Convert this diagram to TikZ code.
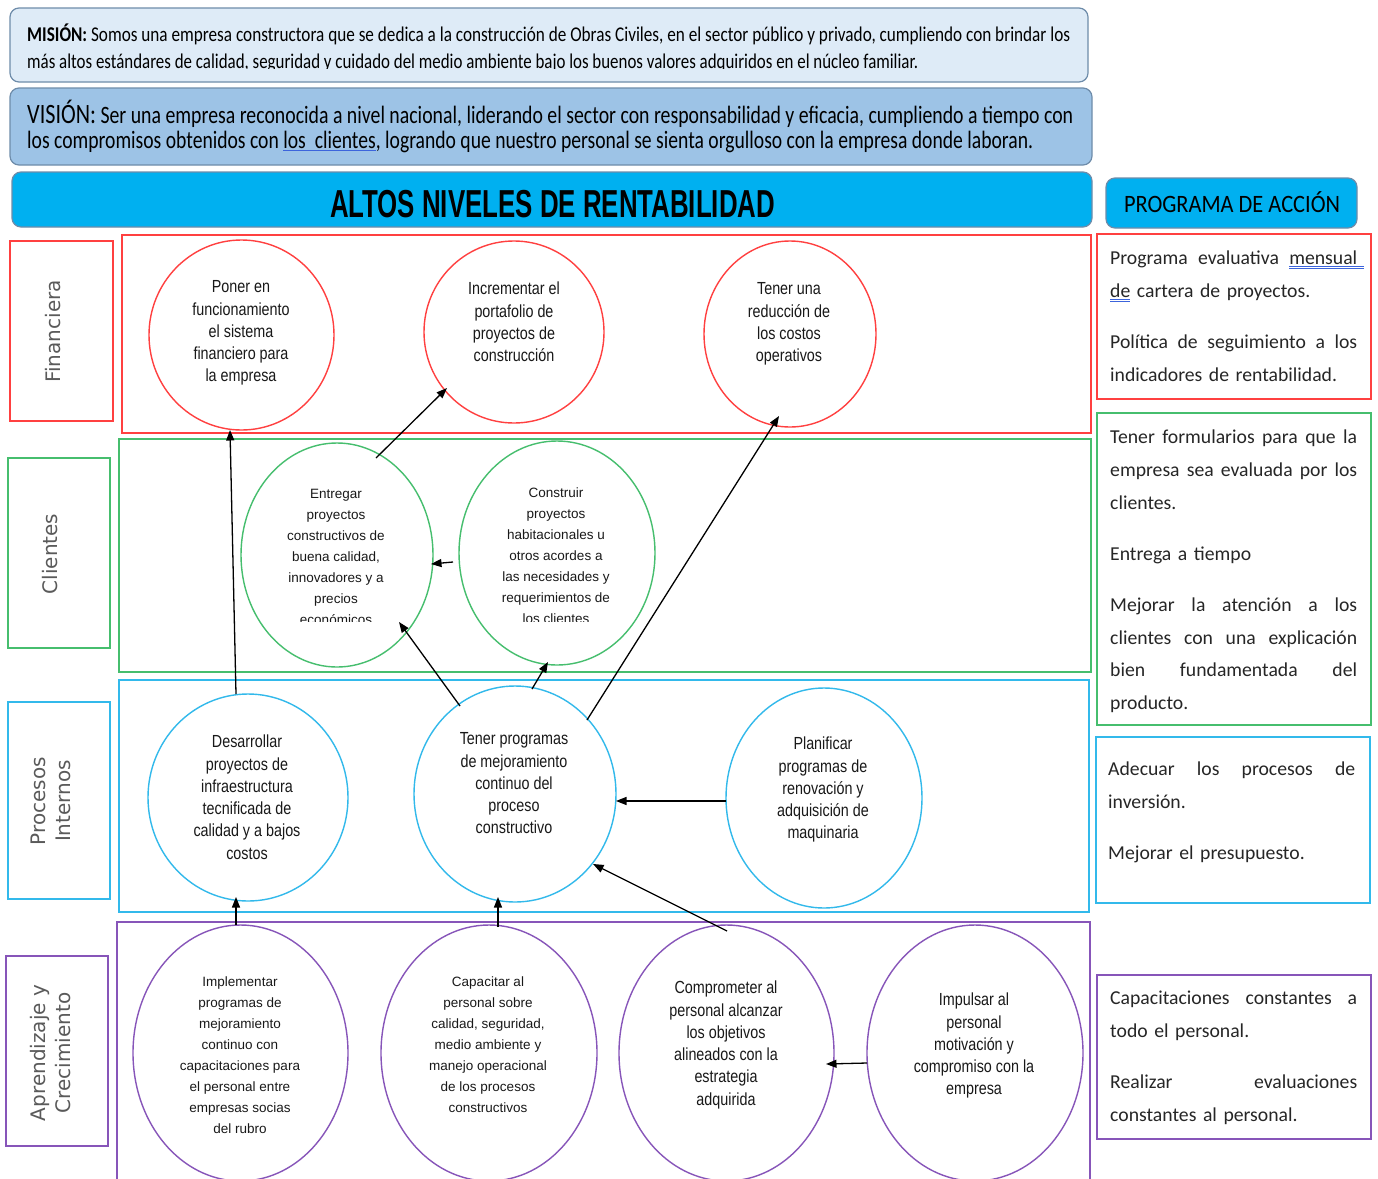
\documentclass[tikz,border=0pt]{standalone}
\usepackage{fontspec}
\usepackage{graphicx}
\usetikzlibrary{shapes.geometric,arrows.meta,calc}
\setmainfont{Liberation Sans}
\newfontfamily\narrowfont[FakeStretch=0.82]{Liberation Sans}
\newfontfamily\calibfont{Carlito}
\newfontfamily\sidefont{DejaVu Sans}

\definecolor{frRed}{RGB}{255,64,64}
\definecolor{frGreen}{RGB}{70,190,110}
\definecolor{frCyan}{RGB}{50,185,235}
\definecolor{frPurple}{RGB}{135,85,185}
\definecolor{misFill}{RGB}{222,235,247}
\definecolor{visFill}{RGB}{157,195,230}
\definecolor{banFill}{RGB}{0,176,240}
\definecolor{banEdge}{RGB}{110,140,170}
\definecolor{ulBlue}{RGB}{60,100,220}
\definecolor{bodyText}{RGB}{38,38,38}
\definecolor{sideText}{RGB}{90,90,90}

% double and single blue underlines
\newcommand\dul[1]{{\color{ulBlue}\underline{\underline{\textcolor{bodyText}{#1}}}}}
\newcommand\sul[1]{{\color{ulBlue}\underline{\textcolor{black}{#1}}}}
% a fully justified line: words separated by \hfill
\newcommand\jline[1]{\leavevmode\hbox to 247pt{#1}}

\tikzset{
  banner/.style={draw=banEdge, line width=1.2pt, rounded corners=9pt, inner sep=0pt},
  goal/.style={ellipse, draw, line width=1.4pt, inner sep=0pt},
  gtext/.style={align=center, anchor=north, inner sep=0pt, text=black!90,
    font=\narrowfont\fontsize{17.5}{22.3}\selectfont},
  gsmall/.style={align=center, anchor=north, inner sep=0pt, text=black!90,
    font=\fontsize{13.5}{21}\selectfont},
  rowframe/.style={draw, line width=1.5pt},
  sidebox/.style={draw, line width=1.8pt},
  sidelabel/.style={rotate=90, align=center, inner sep=0pt, text=sideText,
    font=\sidefont\fontsize{20}{25}\selectfont},
  actbox/.style={draw, line width=1.8pt},
  acttext/.style={anchor=north west, align=left, inner sep=0pt, text width=247pt,
    text=bodyText, font=\calibfont\fontsize{19.7}{32.7}\selectfont},
  link/.style={-{Triangle[length=10.5pt,width=8pt]}, line width=1.3pt, black},
}

\begin{document}
\begin{tikzpicture}[x=1pt, y=-1pt]
\useasboundingbox (0,0) rectangle (1378,1178);
\clip (0,0) rectangle (1378,1178);
\fill[white] (0,0) rectangle (1378,1178);

% ---- mission / vision / headers ----
\node[banner, fill=misFill, minimum width=1078pt, minimum height=74pt] (mision) at (549,45) {};
\node[banner, fill=visFill, minimum width=1082pt, minimum height=77pt] (vision) at (551,126.5) {};
\node[banner, fill=banFill, minimum width=1080pt, minimum height=55pt] (altos) at (552,199.5) {};
\node[banner, fill=banFill, minimum width=251pt, minimum height=50pt] (programa) at (1231.5,203) {};

\node[anchor=base west, inner sep=0pt] (misionA) at (27,41)
  {\resizebox{1043pt}{\height}{\calibfont\fontsize{21}{21}\selectfont\textbf{MISIÓN:} Somos una empresa constructora que se dedica a la construcción de Obras Civiles, en el sector público y privado, cumpliendo con brindar los}};
\begin{scope}
  \clip (12,40) rectangle (1086,68);
  \node[anchor=base west, inner sep=0pt] (misionB) at (27,68)
    {\resizebox{891pt}{\height}{\calibfont\fontsize{21}{21}\selectfont más altos estándares de calidad, seguridad y cuidado del medio ambiente bajo los buenos valores adquiridos en el núcleo familiar.}};
\end{scope}

\node[anchor=base west, inner sep=0pt] (visionA) at (27,123)
  {\resizebox{1046pt}{\height}{\calibfont\fontsize{25}{25}\selectfont{\fontsize{28}{28}\selectfont VISIÓN:} Ser una empresa reconocida a nivel nacional, liderando el sector con responsabilidad y eficacia, cumpliendo a tiempo con}};
\node[anchor=base west, inner sep=0pt] (visionB) at (27,148.5)
  {\resizebox{1006pt}{\height}{\calibfont\fontsize{25}{25}\selectfont los compromisos obtenidos con \sul{los\ \ clientes}, logrando que nuestro personal se sienta orgulloso con la empresa donde laboran.}};

\node[anchor=base, inner sep=0pt] (altosT) at (552.5,217.5)
  {\resizebox{445pt}{\height}{\fontsize{39}{39}\selectfont\bfseries ALTOS NIVELES DE RENTABILIDAD}};
\node[anchor=base, inner sep=0pt] (programaT) at (1232,212.5)
  {\resizebox{216pt}{\height}{\calibfont\fontsize{25}{25}\selectfont PROGRAMA DE ACCIÓN}};

% ---- perspective rows ----
\draw[rowframe, frRed]    (122,235) rectangle (1091,433);
\draw[rowframe, frGreen]  (119,439) rectangle (1091,672);
\draw[rowframe, frCyan]   (119,680) rectangle (1089,912);
\draw[rowframe, frPurple] (117,1190) -- (117,922) -- (1090,922) -- (1090,1190);

% ---- side labels ----
\draw[sidebox, frRed]    (10,241) rectangle (113,421);
\draw[sidebox, frGreen]  (8,458) rectangle (110,648);
\draw[sidebox, frCyan]   (8,702) rectangle (110,899);
\draw[sidebox, frPurple] (6,956) rectangle (108,1146);
\node[sidelabel] (lblFin) at (53,331.5) {Financiera};
\node[sidelabel] (lblCli) at (50.5,554) {Clientes};
\node[sidelabel] (lblPro) at (50.5,801) {Procesos\\Internos};
\node[sidelabel] (lblApr) at (50.5,1053) {Aprendizaje y\\Crecimiento};

% ---- objectives ----
\node[goal, draw=frRed, minimum width=185pt, minimum height=190pt] (F1) at (241.5,335) {};
\node[goal, draw=frRed, minimum width=180pt, minimum height=182pt] (F2) at (514,332) {};
\node[goal, draw=frRed, minimum width=172pt, minimum height=186pt] (F3) at (790,334) {};
\node[goal, draw=frGreen, minimum width=192pt, minimum height=224pt] (C1) at (337,555) {};
\node[goal, draw=frGreen, minimum width=196pt, minimum height=224pt] (C2) at (557,553) {};
\node[goal, draw=frCyan, minimum width=200pt, minimum height=207pt] (P1) at (248,797.5) {};
\node[goal, draw=frCyan, minimum width=202pt, minimum height=216pt] (P2) at (515,794) {};
\node[goal, draw=frCyan, minimum width=196pt, minimum height=220pt] (P3) at (824,798) {};
\node[goal, draw=frPurple, minimum width=215pt, minimum height=256pt] (A1) at (240.5,1053) {};
\node[goal, draw=frPurple, minimum width=216pt, minimum height=256pt] (A2) at (489,1053) {};
\node[goal, draw=frPurple, minimum width=215pt, minimum height=256pt] (A3) at (726.5,1053) {};
\node[goal, draw=frPurple, minimum width=216pt, minimum height=256pt] (A4) at (975,1053) {};

\node[gtext] (F1t) at (241,276.9) {\strut Poner en\\funcionamiento\\el sistema\\financiero para\\la empresa};
\node[gtext] (F2t) at (514,278.9) {\strut Incrementar el\\portafolio de\\proyectos de\\construcción};
\node[gtext] (F3t) at (789,278.9) {\strut Tener una\\reducción de\\los costos\\operativos};
\begin{scope}
  \clip (230,440) rectangle (450,621.5);
  \node[gsmall] (C1t) at (336,483.8) {\strut Entregar\\proyectos\\constructivos de\\buena calidad,\\innovadores y a\\precios\\económicos};
\end{scope}
\begin{scope}
  \clip (455,440) rectangle (660,621);
  \node[gsmall] (C2t) at (556,482.3) {\strut Construir\\proyectos\\habitacionales u\\otros acordes a\\las necesidades y\\requerimientos de\\los clientes};
\end{scope}
\node[gtext] (P1t) at (247,731.9) {\strut Desarrollar\\proyectos de\\infraestructura\\tecnificada de\\calidad y a bajos\\costos};
\node[gtext] (P2t) at (514,728.9) {\strut Tener programas\\de mejoramiento\\continuo del\\proceso\\constructivo};
\node[gtext] (P3t) at (823,733.9) {\strut Planificar\\programas de\\renovación y\\adquisición de\\maquinaria};
\node[gsmall] (A1t) at (240,971.8) {\strut Implementar\\programas de\\mejoramiento\\continuo con\\capacitaciones para\\el personal entre\\empresas socias\\del rubro};
\node[gsmall] (A2t) at (488,971.8) {\strut Capacitar al\\personal sobre\\calidad, seguridad,\\medio ambiente y\\manejo operacional\\de los procesos\\constructivos};
\node[gtext] (A3t) at (726,977.9) {\strut Comprometer al\\personal alcanzar\\los objetivos\\alineados con la\\estrategia\\adquirida};
\node[gtext] (A4t) at (974,989.9) {\strut Impulsar al\\personal\\motivación y\\compromiso con la\\empresa};

% ---- cause and effect links ----
\draw[link] ($(P1)+(-12,-103.5)$) -- ($(F1)+(-11.5,95)$);
\draw[link] ($(C1)+(39,-97)$) -- ($(F2)+(-67,56)$);
\draw[link] ($(C2)+(-104,9)$) -- ($(C1)+(94,9)$);
\draw[link] ($(P2)+(-55,-88)$) -- ($(C1)+(62,67)$);
\draw[link] ($(P2)+(17,-105)$) -- ($(C2)+(-9,109)$);
\draw[link] ($(P2)+(72,-74)$) -- ($(F3)+(-11,82)$);
\draw[link] ($(P3)+(-98,3)$) -- ($(P2)+(101,7)$);
\draw[link] ($(A3)+(0.5,-122)$) -- ($(P2)+(78,70)$);
\draw[link] ($(A1)+(-4.5,-128)$) -- ($(P1)+(-12,99.5)$);
\draw[link] ($(A2)+(9,-126)$) -- ($(P2)+(-17,103)$);
\draw[link] ($(A4)+(-108,10)$) -- ($(A3)+(99.5,11)$);

% ---- action programmes ----
\draw[actbox, frRed]    (1097,234) rectangle (1371,399);
\draw[actbox, frGreen]  (1097,413) rectangle (1371,725);
\draw[actbox, frCyan]   (1096,737) rectangle (1370,903);
\draw[actbox, frPurple] (1097,975) rectangle (1371,1139);

\node[acttext] (accFin) at (1110,241.6) {\strut\jline{Programa\hfill evaluativa\hfill \dul{mensual}\rlap{\dul{\ }}}\\
  \dul{de} cartera de proyectos.\\[18.5pt]
  \jline{Política\hfill de\hfill seguimiento\hfill a\hfill los}\\
  indicadores de rentabilidad.};
\node[acttext] (accCli) at (1110,420.6) {\strut\jline{Tener\hfill formularios\hfill para\hfill que\hfill la}\\
  \jline{empresa\hfill sea\hfill evaluada\hfill por\hfill los}\\
  clientes.\\[18.5pt]
  Entrega a tiempo\\[18.5pt]
  \jline{Mejorar\hfill la\hfill atención\hfill a\hfill los}\\
  \jline{clientes\hfill con\hfill una\hfill explicación}\\
  \jline{bien\hfill fundamentada\hfill del}\\
  producto.};
\node[acttext] (accPro) at (1108,752.6) {\strut\jline{Adecuar\hfill los\hfill procesos\hfill de}\\
  inversión.\\[18.5pt]
  Mejorar el presupuesto.};
\node[acttext] (accApr) at (1110,981.6) {\strut\jline{Capacitaciones\hfill constantes\hfill a}\\
  todo el personal.\\[18.5pt]
  \jline{Realizar\hfill evaluaciones}\\
  constantes al personal.};
\end{tikzpicture}
\end{document}
